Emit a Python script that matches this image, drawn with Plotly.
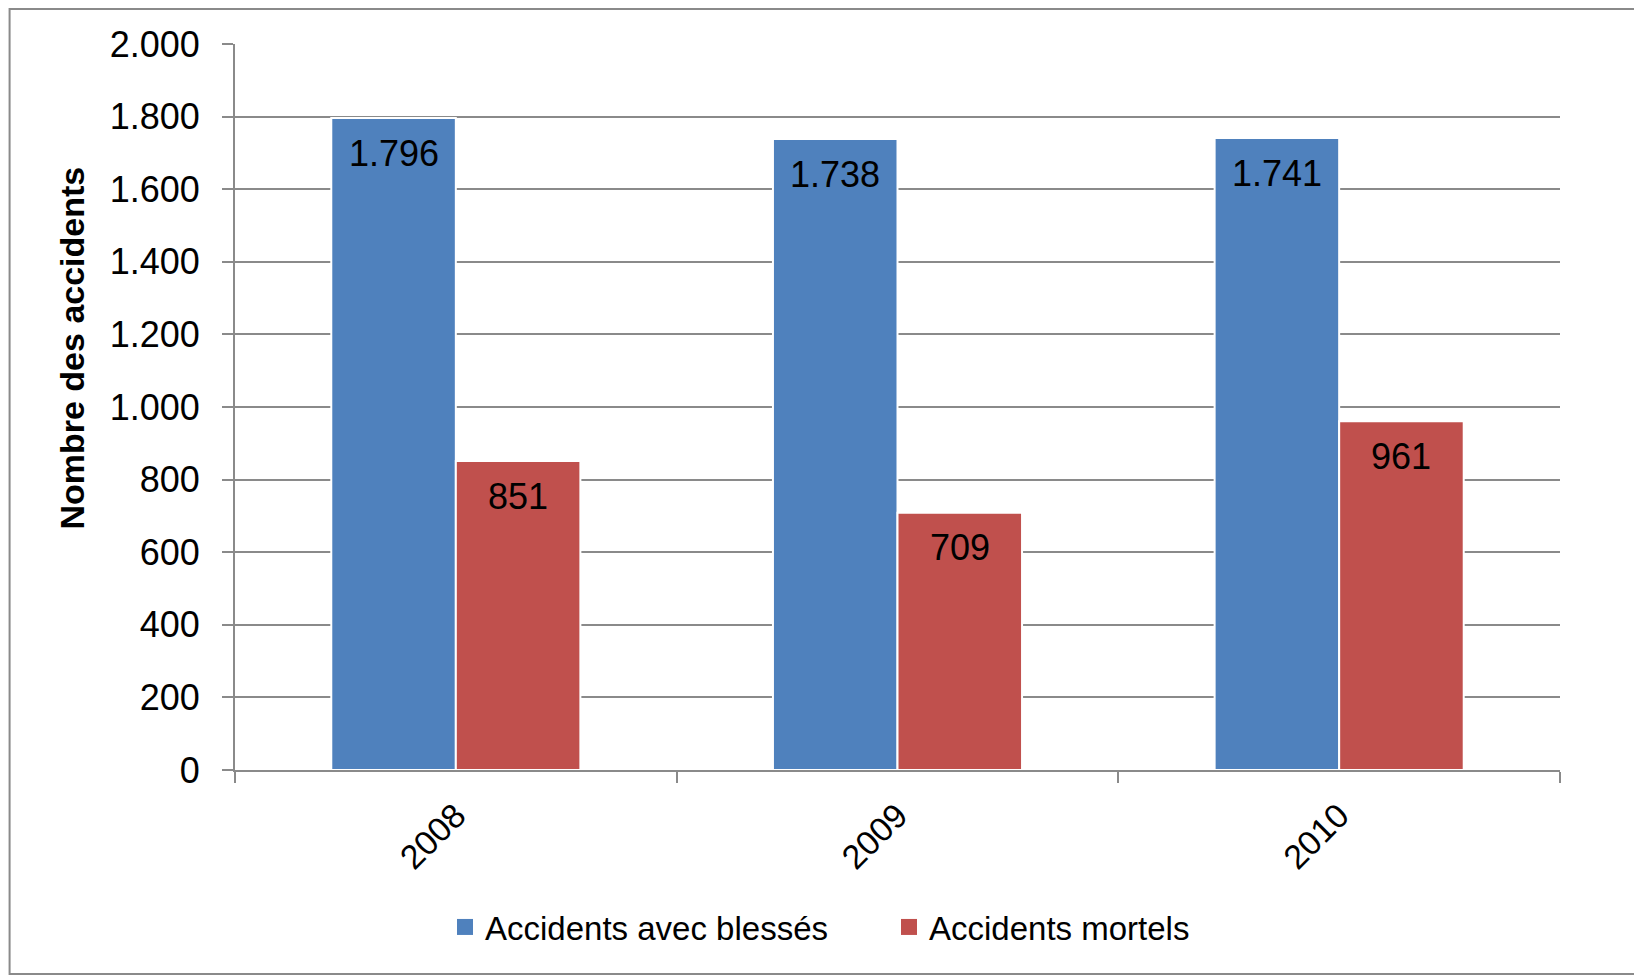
import plotly.graph_objects as go

years = ["2008", "2009", "2010"]
blesses = [1796, 1738, 1741]
mortels = [851, 709, 961]
series_names = ["Accidents avec blessés", "Accidents mortels"]
y_ticks = [0, 200, 400, 600, 800, 1000, 1200, 1400, 1600, 1800, 2000]
y_title = "Nombre des accidents"

FONT = "Liberation Sans"
BLUE = "#4F81BD"
RED = "#C0504D"
GRID = "#8A8A8A"
BARGAP = 0.436

# page body has an 8px margin; figure sized to fill the rest of the window
W, H = 1634, 968
L, R, T, B = 226.5, 82, 36, 206
pw, ph = W - L - R, H - T - B


def px(x):
    return (x - L) / pw


def py(y):
    return (H - B - y) / ph


fig = go.Figure()
series = [(series_names[0], blesses, BLUE), (series_names[1], mortels, RED)]
bar_w = (1 - BARGAP) / len(series)
annotations = []
for s, (name, vals, col) in enumerate(series):
    fig.add_trace(go.Bar(
        x=years, y=vals, name=name, showlegend=False,
        marker=dict(color=col, line=dict(color="white", width=2)),
    ))
    # legend proxy with larger square symbol
    fig.add_trace(go.Scatter(
        x=[None], y=[None], mode="markers", name=name,
        marker=dict(symbol="square", size=20, color=col),
    ))
    off = (s - (len(series) - 1) / 2) * bar_w
    for i, v in enumerate(vals):
        annotations.append(dict(
            x=i + off, y=v, xref="x", yref="y", text=f"{v:,}".replace(",", "."),
            showarrow=False, xanchor="center", yanchor="middle", yshift=-35,
            font=dict(family=FONT, size=36, color="black"),
        ))

annotations.append(dict(text=f"<b>{y_title}</b>", xref="paper", yref="paper",
                        x=px(63), y=py(340), textangle=-90, showarrow=False,
                        xanchor="center", yanchor="middle",
                        font=dict(family=FONT, size=34, color="black")))

fig.update_layout(
    width=W, height=H,
    margin=dict(l=L, r=R, t=T, b=B),
    paper_bgcolor="white", plot_bgcolor="white",
    separators=",.",
    barmode="group", bargap=BARGAP, bargroupgap=0.0,
    font=dict(family=FONT, size=34, color="black"),
    showlegend=True,
    legend=dict(orientation="h", xref="container", yref="container",
                x=437 / W, y=1 - 919 / H, xanchor="left", yanchor="middle",
                entrywidth=399,
                font=dict(family=FONT, size=33, color="black"),
                traceorder="normal"),
    xaxis=dict(type="category", showgrid=False, showline=True, linecolor=GRID, linewidth=2,
               ticks="outside", tickson="boundaries", ticklen=11, tickcolor=GRID, tickwidth=2,
               tickangle=-45, ticklabelstandoff=10,
               tickfont=dict(family=FONT, size=34, color="black")),
    yaxis=dict(range=[0, 2000], tickvals=y_ticks, tickformat=",", showgrid=True,
               gridcolor=GRID, gridwidth=2, showline=True, linecolor=GRID, linewidth=2,
               ticks="outside", ticklen=11, tickcolor=GRID, tickwidth=2, zeroline=False,
               ticklabelstandoff=15,
               tickfont=dict(family=FONT, size=36, color="black")),
    annotations=annotations,
    shapes=[dict(type="rect", xref="paper", yref="paper",
                 x0=px(1), x1=px(1632), y0=py(966), y1=py(1),
                 line=dict(color="#8A8A8A", width=2), layer="below")],
)

fig.write_html("out.html")
